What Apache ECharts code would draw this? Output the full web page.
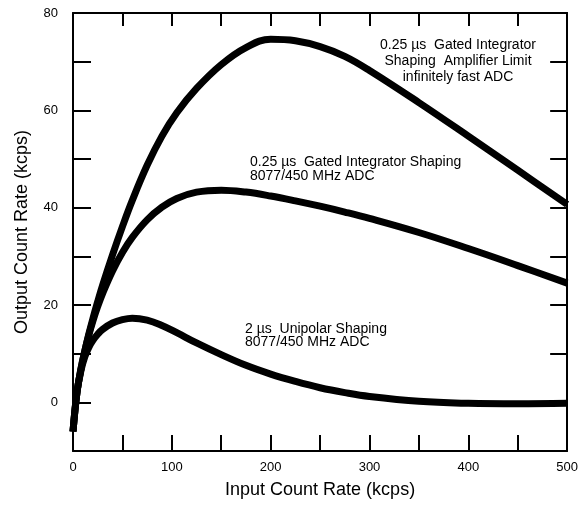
<!DOCTYPE html>
<html>
<head>
<meta charset="utf-8">
<script src="https://cdn.jsdelivr.net/npm/echarts@6/dist/echarts.min.js"></script>
<style>
  html, body { margin: 0; padding: 0; background: #fff; }
  #chart { width: 581px; height: 508px; }
</style>
</head>
<body>
<div id="chart"></div>
<script>
// input count rate (kcps) sample points
const inputRate = [0, 4, 8, 12, 16, 20, 25, 30, 40, 50, 60, 75, 90, 105, 125, 150, 175, 200, 225, 250, 275, 300, 350, 400, 450, 500];
// output count rate (kcps)
const ampLimit = [-6, 2, 6.8, 10.6, 14, 17.1, 20.7, 24.1, 30.3, 36.1, 41.5, 48.7, 54.7, 59.5, 64.5, 69.4, 72.9, 74.6, 74.3, 73.1, 71.1, 68.2, 61.6, 54.7, 47.7, 40.7];
const gatedShaping = [-6, 2, 6.8, 10.6, 13.8, 16.6, 19.7, 22.4, 27, 30.8, 33.9, 37.5, 40.1, 41.9, 43.2, 43.6, 43.2, 42.4, 41.4, 40.3, 39.1, 37.8, 34.9, 31.6, 28.1, 24.5];
const unipolar = [-6, 2, 6.5, 9.4, 11.3, 12.7, 14, 15, 16.3, 17, 17.3, 16.9, 15.8, 14.3, 12.2, 9.8, 7.6, 5.8, 4.3, 3, 2, 1.2, 0.2, -0.2, -0.3, -0.2];

const xTicks = [0, 100, 200, 300, 400, 500];
const yTicks = [0, 20, 40, 60, 80];

const font = "'Liberation Sans', Arial, sans-serif";

function pairs(ys) {
  return inputRate.map((x, i) => [x, ys[i]]);
}

function curve(name, ys) {
  return {
    name: name,
    type: 'line',
    data: pairs(ys),
    smooth: 0.4,
    showSymbol: false,
    lineStyle: { color: '#000', width: 7, cap: 'butt', join: 'round' },
    emphasis: { disabled: true }
  };
}

const axisLine = { show: true, onZero: false, lineStyle: { color: '#000', width: 2 } };

const chart = echarts.init(document.getElementById('chart'));
chart.setOption({
  animation: false,
  backgroundColor: '#fff',
  grid: { left: 73, right: 12, top: 13, bottom: 57 },
  xAxis: [
    {
      type: 'value', position: 'bottom', min: 0, max: 500, interval: 50,
      axisLine: axisLine,
      axisTick: { inside: true, length: 16, lineStyle: { color: '#000', width: 2 } },
      axisLabel: {
        color: '#000', fontFamily: font, fontSize: 13, margin: 10,
        formatter: v => xTicks.includes(v) ? String(v) : ''
      },
      splitLine: { show: false },
      name: 'Input Count Rate (kcps)', nameLocation: 'middle', nameGap: 30,
      nameTextStyle: { color: '#000', fontFamily: font, fontSize: 18 }
    },
    {
      type: 'value', position: 'top', min: 0, max: 500, interval: 50,
      axisLine: axisLine,
      axisTick: { inside: true, length: 13, lineStyle: { color: '#000', width: 2 } },
      axisLabel: { show: false },
      splitLine: { show: false }
    }
  ],
  yAxis: [
    {
      type: 'value', position: 'left', min: -10, max: 80, interval: 10,
      axisLine: axisLine,
      axisTick: { inside: true, length: 18, lineStyle: { color: '#000', width: 2 } },
      axisLabel: {
        color: '#000', fontFamily: font, fontSize: 13, margin: 15,
        formatter: v => yTicks.includes(v) ? String(v) : ''
      },
      splitLine: { show: false },
      name: 'Output Count Rate (kcps)', nameLocation: 'middle', nameGap: 42,
      nameTextStyle: { color: '#000', fontFamily: font, fontSize: 18 }
    },
    {
      type: 'value', position: 'right', min: -10, max: 80, interval: 10,
      axisLine: axisLine,
      axisTick: { inside: true, length: 17, lineStyle: { color: '#000', width: 2 } },
      axisLabel: { show: false },
      splitLine: { show: false }
    }
  ],
  series: [
    curve('0.25 µs Gated Integrator Shaping Amplifier Limit', ampLimit),
    curve('0.25 µs Gated Integrator Shaping 8077/450 MHz ADC', gatedShaping),
    curve('2 µs Unipolar Shaping 8077/450 MHz ADC', unipolar)
  ],
  graphic: [
    {
      type: 'text', x: 458, y: 37,
      style: {
        text: '0.25 µs  Gated Integrator\nShaping  Amplifier Limit\ninfinitely fast ADC',
        font: '14px ' + font, fill: '#000', align: 'center', verticalAlign: 'top', lineHeight: 16
      }
    },
    {
      type: 'text', x: 250, y: 155,
      style: {
        text: '0.25 µs  Gated Integrator Shaping\n8077/450 MHz ADC',
        font: '14px ' + font, fill: '#000', verticalAlign: 'top', lineHeight: 14
      }
    },
    {
      type: 'text', x: 245, y: 323,
      style: {
        text: '2 µs  Unipolar Shaping\n8077/450 MHz ADC',
        font: '14px ' + font, fill: '#000', verticalAlign: 'top', lineHeight: 13
      }
    }
  ]
});
</script>
</body>
</html>
